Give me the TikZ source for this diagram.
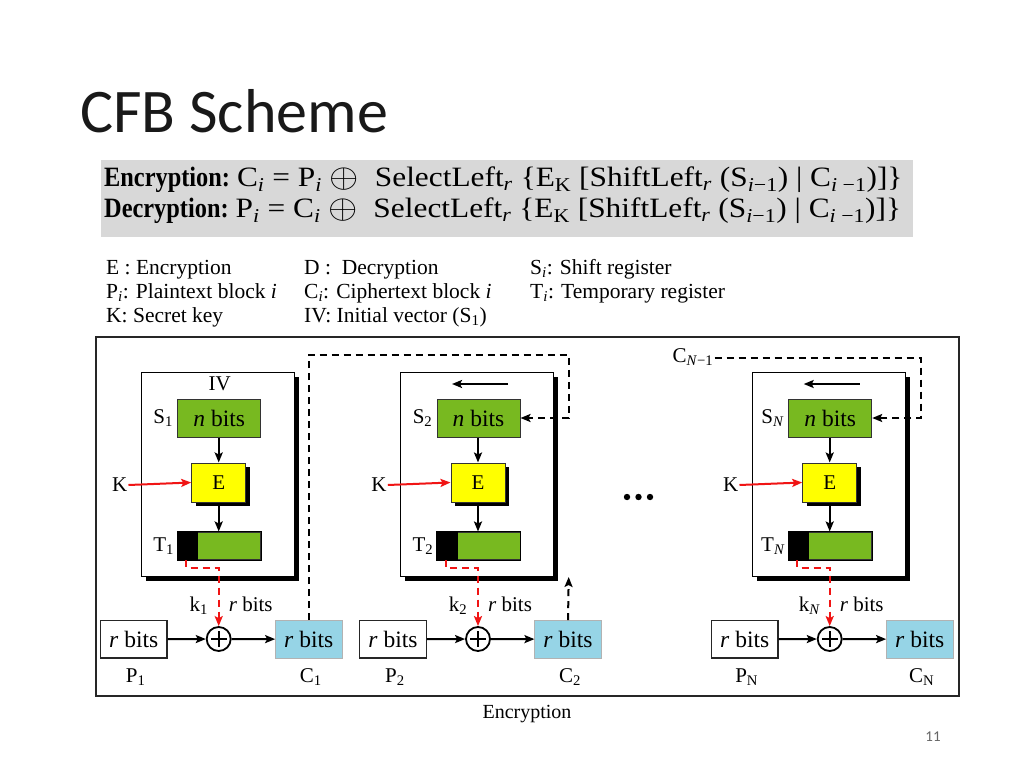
\documentclass[tikz,border=0pt]{standalone}
\usepackage{fontspec}
\usepackage{graphicx}
\setmainfont{Liberation Serif}
\newfontfamily\titlefont{Carlito}
\usetikzlibrary{arrows.meta}
\definecolor{bitgreen}{RGB}{120,185,32}
\definecolor{encyellow}{RGB}{255,255,0}
\definecolor{cblue}{RGB}{150,212,230}
\definecolor{fgray}{RGB}{216,216,216}
\definecolor{kred}{RGB}{240,20,20}
\newcommand\sbs[1]{\textsubscript{#1}}
\newcommand\bigxor{\raisebox{-0.5pt}{\scalebox{1.35}{$\oplus$}}}
\begin{document}
\begin{tikzpicture}[x=1pt,y=-1pt,
  arr/.style={-{Stealth[length=10pt,width=8pt,inset=2pt]}},
  conn/.style={line width=2pt,arr},
  dashconn/.style={line width=2pt,dash pattern=on 7pt off 5pt},
  boxtext/.style={font=\fontsize{23.5}{25}\selectfont},
  lbl/.style={font=\fontsize{21}{23}\selectfont,inner sep=1pt},
  legend/.style={font=\fontsize{21.5}{23}\selectfont,inner sep=0pt,anchor=base west},
  bitbox/.style={draw=black!80,fill=bitgreen,line width=1pt,minimum width=83pt,minimum height=38pt,inner sep=0pt,boxtext},
  ebox/.style={draw=black!80,fill=encyellow,line width=1pt,minimum width=54pt,minimum height=39pt,inner sep=0pt,font=\fontsize{21}{23}\selectfont},
  tbox/.style={draw=black!80,fill=bitgreen,line width=1pt,minimum width=83pt,minimum height=27.5pt,inner sep=0pt},
  pbox/.style={draw=black!85,fill=white,line width=1.1pt,minimum width=66.5pt,minimum height=37.5pt,inner sep=0pt,boxtext},
  cbox/.style={draw=black!30,fill=cblue,line width=0.6pt,minimum width=66.5pt,minimum height=37.5pt,inner sep=0pt,boxtext},
  xorc/.style={draw,circle,line width=1.8pt,minimum size=24pt,inner sep=0pt},
  regbox/.style={draw,fill=white,line width=1.1pt,anchor=north west,minimum width=153pt,minimum height=204pt,inner sep=0pt}
]
\useasboundingbox (0,0) rectangle (1024,767);
\fill[white] (0,0) rectangle (1024,767);
% title
\node[anchor=base west,inner sep=0,font=\titlefont\fontsize{62}{70}\selectfont,text=black!90] (title) at (80,133) {CFB Scheme};
% formulas
\fill[fgray] (101,160.5) rectangle (913,236.5);
\node[anchor=base west,inner sep=0] (fenc) at (104,187) {\fontsize{28}{30}\selectfont\scalebox{0.87}[1]{\textbf{Encryption:}} \scalebox{1.12}[1]{C\sbs{\textit{i}} = P\sbs{\textit{i}} \bigxor\ \ SelectLeft\sbs{\textit{r}} \{E\sbs{K} [ShiftLeft\sbs{\textit{r}} (S\sbs{\textit{i}−1}) | C\sbs{\textit{i} −1})]\}}};
\node[anchor=base west,inner sep=0] (fdec) at (104,218) {\fontsize{28}{30}\selectfont\scalebox{0.87}[1]{\textbf{Decryption:}} \scalebox{1.12}[1]{P\sbs{\textit{i}} = C\sbs{\textit{i}} \bigxor\ \ SelectLeft\sbs{\textit{r}} \{E\sbs{K} [ShiftLeft\sbs{\textit{r}} (S\sbs{\textit{i}−1}) | C\sbs{\textit{i} −1})]\}}};
% legend
\node[legend] (l11) at (106,274) {E : Encryption};
\node[legend] (l12) at (304,274) {D :\ \ Decryption};
\node[legend] (l13) at (530,274) {S\sbs{\textit{i}}: Shift register};
\node[legend] (l21) at (106,298) {P\sbs{\textit{i}}: Plaintext block \textit{i}};
\node[legend] (l22) at (304,298) {C\sbs{\textit{i}}: Ciphertext block \textit{i}};
\node[legend] (l23) at (530,298) {T\sbs{\textit{i}}: Temporary register};
\node[legend] (l31) at (106,322.5) {K: Secret key};
\node[legend] (l32) at (304,322.5) {IV: Initial vector (S\sbs{1})};
% frame
\draw[line width=1.5pt,black!85] (96,337) rectangle (959,696);
\node[lbl,font=\fontsize{20}{22}\selectfont] (cap) at (527,714) {Encryption};
% blocks
\foreach \i/\x/\s/\u in {1/140.7/1/1,2/400/2/2,3/751.7/\textit{N}/N}{
  \fill (\x+5,377) rectangle (\x+158,581);
  \node[regbox] (B\i) at (\x,372) {};
  \node[bitbox] (S\i) at (\x+78.5,418) {\textit{n} bits};
  \fill (\x+55,467) rectangle (\x+109,506);
  \node[ebox] (E\i) at (\x+78,482.5) {E};
  \node[tbox] (T\i) at (\x+78.5,545.75) {};
  \fill (T\i.north west) rectangle ([xshift=21pt]T\i.south west);
  \draw[line width=1pt] (T\i.north west) rectangle (T\i.south east);
  \node[lbl,anchor=east] (SL\i) at ([xshift=-3pt]S\i.west) {S\sbs{\s}};
  \node[lbl,anchor=east] (TL\i) at ([xshift=-2pt]T\i.west) {T\sbs{\s}};
  \node[xorc] (X\i) at (\x+78,639) {};
  \draw[line width=1.8pt] ([yshift=-5pt]X\i.north) -- ([yshift=5pt]X\i.south) ([xshift=5pt]X\i.west) -- ([xshift=-5pt]X\i.east);
  \node[pbox] (P\i) at (\x-7,639.2) {\textit{r} bits};
  \node[cbox] (C\i) at (\x+168,639.2) {\textit{r} bits};
  \node[lbl,anchor=base] (PL\i) at (\x-5,682) {P\sbs{\u}};
  \node[lbl,anchor=base] (CL\i) at (\x+170,682) {C\sbs{\u}};
  \node[lbl] (K\i) at (\x-21,485) {K};
  \draw[conn,kred] (K\i.east) -- (E\i.west);
  \node[lbl,anchor=base] (kl\i) at (\x+58,611) {k\sbs{\s}};
  \node[lbl,anchor=base] (rl\i) at (\x+110,611) {\textit{r} bits};
  \draw[conn] (E\i.north |- S\i.south) -- (E\i.north);
  \draw[conn] (E\i.south) -- (E\i.south |- T\i.north);
  \draw[dashconn,kred,arr] ([xshift=9pt]T\i.south west) -- ++(0,7.5) -| (X\i.north);
  \draw[conn] (P\i) -- (X\i);
  \draw[conn] (X\i) -- (C\i);
}
% top of registers
\node[lbl] (IV) at (140.7+79,384) {IV};
\foreach \i/\x in {2/400,3/751.7}{
  \coordinate (sa\i) at (\x+108,384);
  \coordinate (sb\i) at (\x+52,384);
  \draw[conn] (sa\i) -- (sb\i);
}
% feedback
\coordinate (fb1) at (568.7,355);
\draw[dashconn,arr] (C1.north) |- (fb1) |- (S2.east);
\coordinate (c2up) at (568.7,577);
\draw[dashconn,arr] (C2.north) -- (c2up);
\node[lbl] (CN1) at (693,357) {C\sbs{\textit{N}−1}};
\coordinate (fb2) at (921,358);
\draw[dashconn,arr] (CN1.east |- fb2) -- (fb2) |- (S3.east);
% dots
\foreach \d in {627,638.5,650}{\fill (\d,497) circle[radius=3.2pt];}
% page number
\node[font=\titlefont\fontsize{15}{17}\selectfont,text=black!60] (pg) at (933,737) {11};
\end{tikzpicture}
\end{document}
